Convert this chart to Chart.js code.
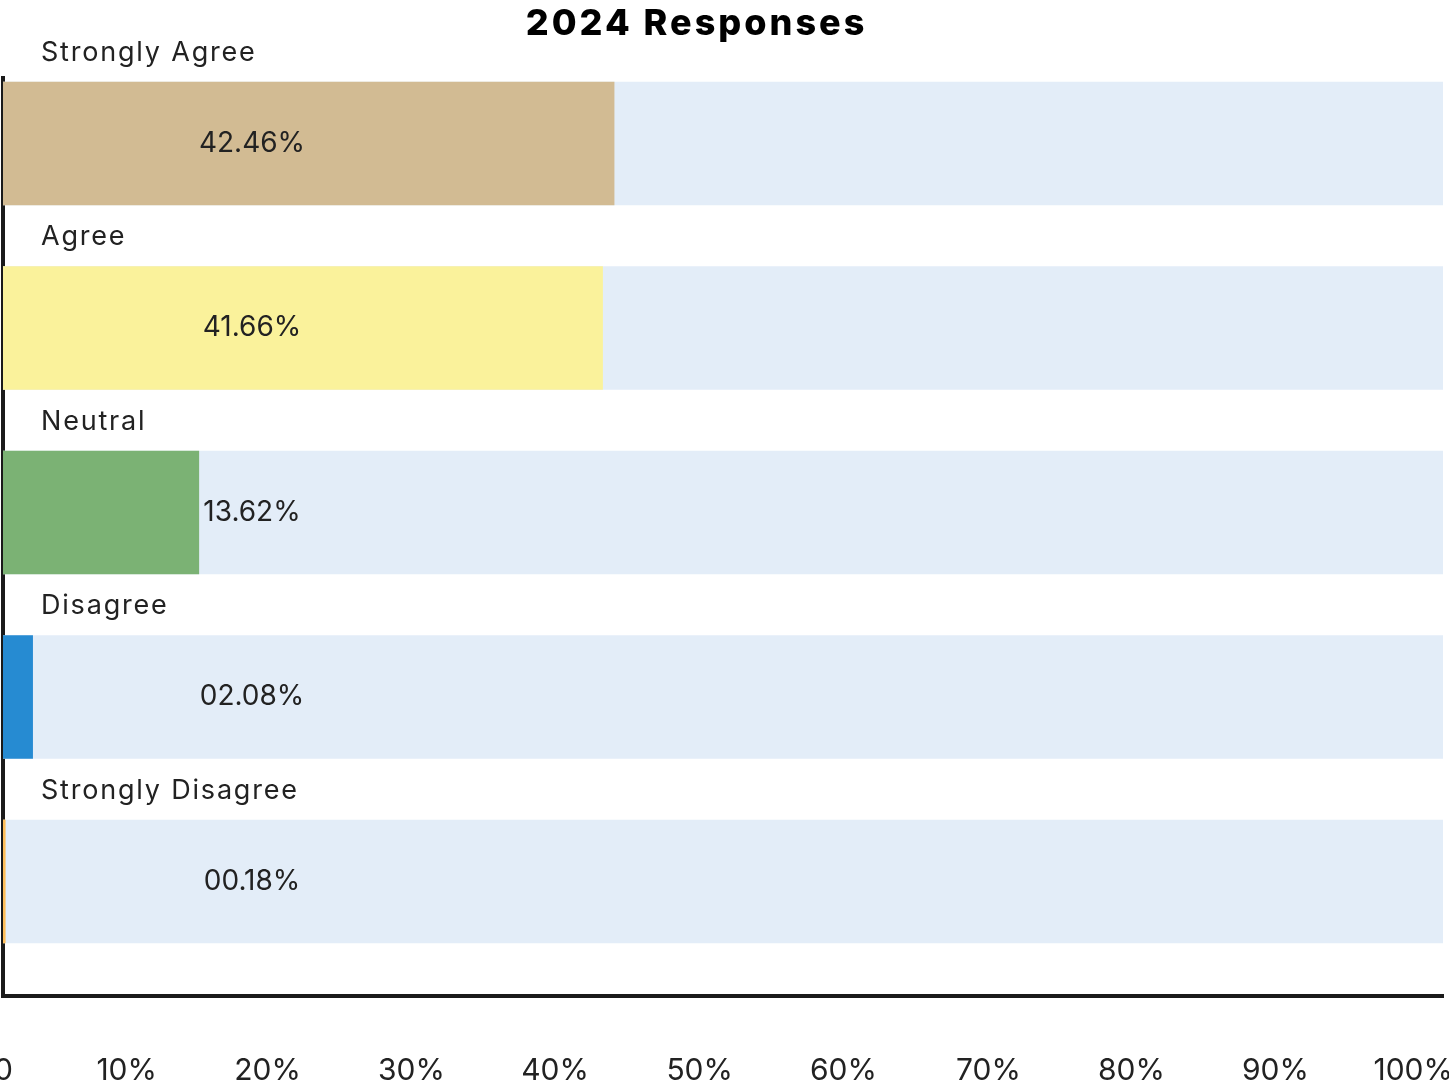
<!DOCTYPE html>
<html>
<head>
<meta charset="utf-8">
<script src="https://cdn.jsdelivr.net/npm/chart.js@4"></script>
<style>
  body { margin: 0; background: #fff; }
  #wrap { position: relative; width: 1449px; height: 1086px; }
  #title {
    position: absolute; left: 0; top: 0; width: 1393px;
    text-align: center; font: 800 36px Inter, sans-serif;
    letter-spacing: 3px; line-height: 44px; color: #000;
  }
</style>
</head>
<body>
<div id="wrap">
  <div id="title">2024 Responses</div>
  <canvas id="resultChart" width="1449" height="1086"></canvas>
</div>
<script>
const categories = ['Strongly Agree', 'Agree', 'Neutral', 'Disagree', 'Strongly Disagree']
const percentages = [42.46, 41.66, 13.62, 2.08, 0.18]
const barColors = ['#D2BB93', '#FAF29B', '#7BB274', '#268BD2', '#FFBE59']
const fullScale = [100, 100, 100, 100, 100]
const tickValues = [0, 10, 20, 30, 40, 50, 60, 70, 80, 90, 100]

const textColor = '#222222'

// category name above each bar and the percentage inside it
const barLabels = {
  id: 'barLabels',
  afterDatasetsDraw (chart) {
    const ctx = chart.ctx
    const area = chart.chartArea
    const bars = chart.getDatasetMeta(0).data
    ctx.save()
    ctx.fillStyle = textColor
    ctx.textBaseline = 'middle'
    for (let i = 0; i < bars.length; i++) {
      const bar = bars[i]
      const top = bar.y - bar.height / 2
      ctx.font = '27px Inter, sans-serif'
      ctx.letterSpacing = '1.8px'
      ctx.textAlign = 'left'
      ctx.fillText(categories[i], area.left + 38, top - 29)
      ctx.font = '28px Inter, sans-serif'
      ctx.letterSpacing = '0px'
      ctx.textAlign = 'center'
      const txt = percentages[i].toFixed(2).padStart(5, '0') + '%'
      ctx.fillText(txt, area.left + 249, bar.y)
    }
    ctx.restore()
  }
}

const ctx = document.getElementById('resultChart').getContext('2d')
const resultChart = new Chart(ctx, {
  type: 'bar',
  data: {
    datasets: [{
      label: 'responses',
      data: percentages.map((v, i) => ({ x: v, y: i })),
      backgroundColor: barColors,
      grouped: false
    }, {
      label: 'track',
      data: fullScale.map((v, i) => ({ x: v, y: i })),
      backgroundColor: '#E3EDF8',
      grouped: false
    }]
  },
  options: {
    indexAxis: 'y',
    responsive: false,
    animation: false,
    layout: { padding: { left: 3, right: 6, top: 78, bottom: 0 } },
    datasets: {
      bar: { barPercentage: 0.67, categoryPercentage: 1, borderWidth: 0 }
    },
    plugins: {
      legend: { display: false },
      tooltip: { enabled: false },
      title: { display: false }
    },
    scales: {
      y: {
        type: 'linear',
        reverse: true,
        offset: false,
        min: -0.355,
        max: 4.621,
        z: 1,
        afterBuildTicks: (scale) => {
          scale.ticks = categories.map((c, i) => ({ value: i }))
        },
        grid: { display: false, drawTicks: false },
        ticks: { display: false },
        border: { display: true, color: '#1A1A1A', width: 4 }
      },
      x: {
        type: 'linear',
        min: 0,
        max: 100,
        z: 1,
        grid: { display: false, drawTicks: false },
        border: { display: true, color: '#1A1A1A', width: 4 },
        afterBuildTicks: (scale) => {
          scale.ticks = tickValues.map(v => ({ value: v }))
        },
        afterFit: (scale) => {
          scale.paddingLeft = 0
          scale.paddingRight = 0
          scale.height = 90
        },
        ticks: {
          align: 'end',
          labelOffset: 10,
          padding: 57,
          color: textColor,
          font: { family: 'Inter', size: 30 },
          callback: (v) => (v === 0 ? '0' : v + '%')
        }
      }
    }
  },
  plugins: [barLabels]
})
</script>
</body>
</html>
